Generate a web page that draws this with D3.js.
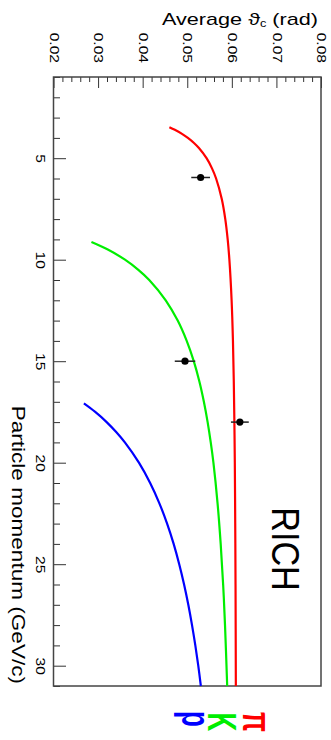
<!DOCTYPE html>
<html>
<head>
<meta charset="utf-8">
<script src="https://cdn.jsdelivr.net/npm/d3@7"></script>
<style>
  html, body { margin: 0; padding: 0; background: #fff; }
  svg { display: block; }
</style>
</head>
<body>
<div id="container"></div>
<script>
/* Define global constants */
const width = 331
const height = 740
const frameLeft = 53.5
const frameRight = 321
const frameTop = 77
const frameBottom = 686
const FONT = "'Liberation Sans', Arial, sans-serif"

/* Chart data */
const pionP = [3.47, 3.6, 3.8, 4.0, 4.25, 4.5, 5, 5.5, 6, 7, 8, 9, 10, 12, 14, 16, 18, 20, 23, 26, 31];
const pionTheta = [0.04599, 0.04721, 0.04882, 0.05014, 0.05151, 0.05262, 0.05433, 0.05555, 0.05647, 0.05773, 0.05853, 0.05907, 0.05945, 0.05995, 0.06025, 0.06044, 0.06057, 0.06067, 0.06076, 0.06083, 0.06090];
const kaonP = [9.13, 9.5, 10, 10.5, 11, 12, 13, 14, 15, 16, 17, 18, 19, 20, 22, 24, 26, 28, 31];
const kaonTheta = [0.02851, 0.03218, 0.03603, 0.03903, 0.04147, 0.04517, 0.04786, 0.04988, 0.05146, 0.05272, 0.05373, 0.05457, 0.05527, 0.05587, 0.05680, 0.05750, 0.05805, 0.05847, 0.05896];
const protonP = [17.08, 17.5, 18, 18.5, 19, 20, 21, 22, 23, 24, 25, 26, 27, 28, 29, 30, 31];
const protonTheta = [0.02682, 0.02936, 0.03192, 0.03411, 0.03601, 0.03916, 0.04168, 0.04375, 0.04548, 0.04695, 0.04820, 0.04929, 0.05024, 0.05107, 0.05181, 0.05247, 0.05305];
const measP = [5.95, 15.0, 18.0];
const measTheta = [0.0530, 0.0495, 0.0618];
const measErr = [0.0021, 0.0023, 0.0020];
const thetaTicks = [0.02, 0.03, 0.04, 0.05, 0.06, 0.07, 0.08];
const momentumTicks = [5, 10, 15, 20, 25, 30];
const particleNames = ["p", "K", "\u03c0"];
const particleColors = ["#0000ff", "#00ee00", "#ff0000"];

/* Scales: the plot is turned on its side, theta runs left-right, momentum top-down */
const thetaScale = d3.scaleLinear().domain([0.02, 0.08]).range([frameLeft, frameRight]);
const pScale = d3.scaleLinear().domain([1, 31]).range([frameTop, frameBottom]);

const svg = d3.select("#container")
              .append("svg")
              .attr("width", width)
              .attr("height", height);

/* Axes (ticks pointing inside the frame) */
const minorTheta = d3.range(0.02, 0.0801, 0.002).filter((d) => Math.abs(d * 100 - Math.round(d * 100)) > 1e-6);
svg.append("g")
   .attr("transform", "translate(0," + frameTop + ")")
   .call(d3.axisTop(thetaScale).tickValues(minorTheta).tickSize(-5).tickFormat(""))
   .call((g) => g.select(".domain").remove());
const topAxis = svg.append("g")
   .attr("transform", "translate(0," + frameTop + ")")
   .call(d3.axisTop(thetaScale).tickValues(thetaTicks).tickSize(-11).tickFormat(d3.format(".2f")));
topAxis.select(".domain").remove();
topAxis.selectAll("text")
   .attr("x", 0).attr("y", 0).attr("dy", "0.36em")
   .attr("text-anchor", "end")
   .attr("transform", "translate(0," + (63 - frameTop) + ") rotate(90) scale(1.3,1)")
   .attr("font-family", FONT)
   .attr("font-size", 12)
   .attr("fill", "#000");

const minorP = d3.range(1, 32).filter((d) => d % 5 !== 0);
svg.append("g")
   .attr("transform", "translate(" + frameLeft + ",0)")
   .call(d3.axisLeft(pScale).tickValues(minorP).tickSize(-6.5).tickFormat(""))
   .call((g) => g.select(".domain").remove());
const leftAxis = svg.append("g")
   .attr("transform", "translate(" + frameLeft + ",0)")
   .call(d3.axisLeft(pScale).tickValues(momentumTicks).tickSize(-12.5));
leftAxis.select(".domain").remove();
leftAxis.selectAll("text")
   .attr("x", 0).attr("y", 0).attr("dy", 0)
   .attr("text-anchor", "middle")
   .attr("transform", "translate(" + (35.5 - frameLeft) + ",0) rotate(90) scale(1.3,1)")
   .attr("font-family", FONT)
   .attr("font-size", 12)
   .attr("fill", "#000");

svg.selectAll(".tick line").attr("stroke", "#333");

/* Frame */
svg.append("rect")
   .attr("x", frameLeft)
   .attr("y", frameTop)
   .attr("width", frameRight - frameLeft)
   .attr("height", frameBottom - frameTop)
   .attr("fill", "none")
   .attr("stroke", "#444")
   .attr("stroke-width", 1.5);

/* Axis titles */
const thetaTitle = svg.append("text")
   .attr("x", 318)
   .attr("y", 25)
   .attr("text-anchor", "end")
   .attr("font-family", FONT)
   .attr("font-size", 17)
   .attr("textLength", 156)
   .attr("lengthAdjust", "spacingAndGlyphs");
thetaTitle.append("tspan").text("Average \u03d1");
thetaTitle.append("tspan").attr("font-size", 10).attr("dy", 2).text("c");
thetaTitle.append("tspan").attr("dy", -2).text(" (rad)");

svg.append("text")
   .attr("transform", "translate(12,684) rotate(90) scale(1.29,1)")
   .attr("text-anchor", "end")
   .attr("font-family", FONT)
   .attr("font-size", 17.5)
   .text("Particle momentum (GeV/c)");

/* Expected curves */
const curve = d3.line()
                .x((d) => thetaScale(d[1]))
                .y((d) => pScale(d[0]))
                .curve(d3.curveCatmullRom);
const series = [
  {p: protonP, theta: protonTheta, color: particleColors[0]},
  {p: kaonP, theta: kaonTheta, color: particleColors[1]},
  {p: pionP, theta: pionTheta, color: particleColors[2]}
];
svg.selectAll("path.curve")
   .data(series)
   .enter()
   .append("path")
   .attr("class", "curve")
   .attr("d", (s) => curve(s.p.map((p, i) => [p, s.theta[i]])))
   .attr("fill", "none")
   .attr("stroke", (s) => s.color)
   .attr("stroke-width", 2.2);

/* Measured points with error bars */
svg.selectAll("line.err")
   .data(measP)
   .enter()
   .append("line")
   .attr("class", "err")
   .attr("x1", (d, i) => thetaScale(measTheta[i] - measErr[i]))
   .attr("x2", (d, i) => thetaScale(measTheta[i] + measErr[i]))
   .attr("y1", (d) => pScale(d))
   .attr("y2", (d) => pScale(d))
   .attr("stroke", "#222")
   .attr("stroke-width", 1.5);
svg.selectAll("circle.meas")
   .data(measP)
   .enter()
   .append("circle")
   .attr("class", "meas")
   .attr("cx", (d, i) => thetaScale(measTheta[i]))
   .attr("cy", (d) => pScale(d))
   .attr("r", 3.6)
   .attr("fill", "#000");

/* RICH label */
svg.append("text")
   .attr("transform", "translate(272,549) rotate(90) scale(0.9,1)")
   .attr("text-anchor", "middle")
   .attr("font-family", FONT)
   .attr("font-size", 38)
   .text("RICH");

/* Particle labels below the frame */
const labelX = [182, 208, 243];
const labelY = [719, 722, 722];
svg.selectAll("text.particle")
   .data(particleNames)
   .enter()
   .append("text")
   .attr("class", "particle")
   .attr("transform", (d, i) => "translate(" + labelX[i] + "," + labelY[i] + ") rotate(90) scale(0.65,1)")
   .attr("text-anchor", "middle")
   .attr("font-family", FONT)
   .attr("font-weight", "bold")
   .attr("font-size", 40)
   .attr("fill", (d, i) => particleColors[i])
   .text((d) => d);
</script>
</body>
</html>
